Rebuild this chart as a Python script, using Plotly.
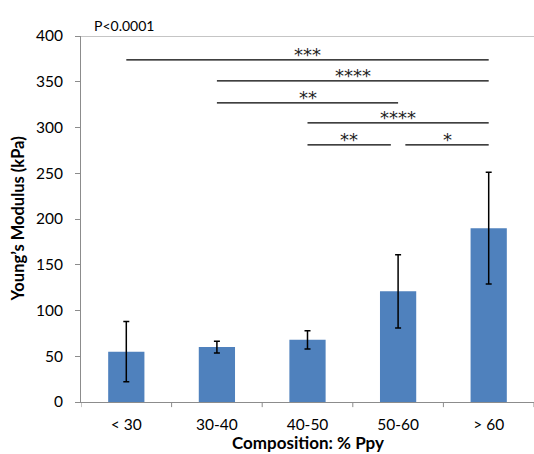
import plotly.graph_objects as go

categories = ["< 30", "30-40", "40-50", "50-60", "> 60"]
modulus = [55, 60, 68, 121, 190]
errors = [33, 6.5, 10, 40, 61]
y_ticks = [0, 50, 100, 150, 200, 250, 300, 350, 400]

# significance comparisons: start index, end index, level (kPa), label
sig_start = [0, 1, 1, 2, 2, 3]
sig_end = [4, 4, 3, 4, 3, 4]
sig_level = [374, 351, 327, 305, 281, 281]
sig_label = ["***", "****", "**", "****", "**", "*"]
sig_start_pad = [0, 0, 0, 0, 0, 0.08]
sig_end_pad = [0, 0, 0, 0, -0.08, 0]

font_main = "Lato, 'Open Sans', sans-serif"
axis_color = "#8c8c8c"

fig = go.Figure()
fig.add_trace(go.Bar(
    x=list(range(len(categories))),
    y=modulus,
    marker=dict(color="#4F81BD", line=dict(width=0)),
    width=0.4,
    error_y=dict(type="data", array=errors, visible=True,
                 color="black", thickness=1.5, width=3),
))

for s, e, lv, lab, sp, ep in zip(sig_start, sig_end, sig_level, sig_label,
                                 sig_start_pad, sig_end_pad):
    fig.add_shape(type="line", xref="x", yref="y",
                  x0=s + sp, x1=e + ep, y0=lv, y1=lv,
                  line=dict(color="black", width=1.3))
    fig.add_annotation(x=(s + sp + e + ep) / 2, y=lv, xref="x", yref="y",
                       text=lab, showarrow=False, yanchor="bottom", yshift=-7,
                       font=dict(family="DejaVu Sans", size=18, color="#222222"))

# top border line at 400
fig.add_shape(type="line", xref="paper", yref="y", x0=-0.011, x1=1, y0=400, y1=400,
              line=dict(color=axis_color, width=1))

fig.add_annotation(x=0.024, y=1.030, xref="paper", yref="paper", text="P<0.0001",
                   showarrow=False, xanchor="left", yanchor="middle",
                   font=dict(family=font_main, size=14, color="black"))

# axis titles
fig.add_annotation(x=0.5, y=-0.1105, xref="paper", yref="paper",
                   text="<b>Composition: % Ppy</b>", showarrow=False,
                   xanchor="center", yanchor="middle",
                   font=dict(family=font_main, size=17, color="black"))
fig.add_annotation(x=-0.138, y=0.5, xref="paper", yref="paper",
                   text="<b>Young’s Modulus (kPa)</b>", showarrow=False,
                   textangle=-90, xanchor="center", yanchor="middle",
                   font=dict(family=font_main, size=16.5, color="black"))

fig.update_layout(
    width=534, height=454,
    margin=dict(l=81, r=0, t=36, b=52),
    plot_bgcolor="white", paper_bgcolor="white",
    showlegend=False,
    font=dict(family=font_main, size=16, color="black"),
    xaxis=dict(
        tickmode="array", tickvals=list(range(len(categories))), ticktext=categories,
        range=[-0.5, 4.5], showgrid=False, showline=True, linecolor=axis_color,
        linewidth=1, ticks="", tickfont=dict(size=15.5), ticklabelstandoff=8,
    ),
    yaxis=dict(
        range=[0, 400], tickvals=y_ticks, showgrid=False, showline=True,
        linecolor=axis_color, linewidth=1, ticks="outside", ticklen=5,
        tickcolor=axis_color, tickfont=dict(size=15.5), zeroline=False,
        ticklabelstandoff=9,
    ),
)

# category boundary ticks on x axis
for b in [i - 0.5 for i in range(len(categories) + 1)]:
    fig.add_shape(type="line", xref="x", yref="paper", x0=b, x1=b, y0=0, y1=-0.014,
                  line=dict(color=axis_color, width=1))

fig.write_html("out.html")
